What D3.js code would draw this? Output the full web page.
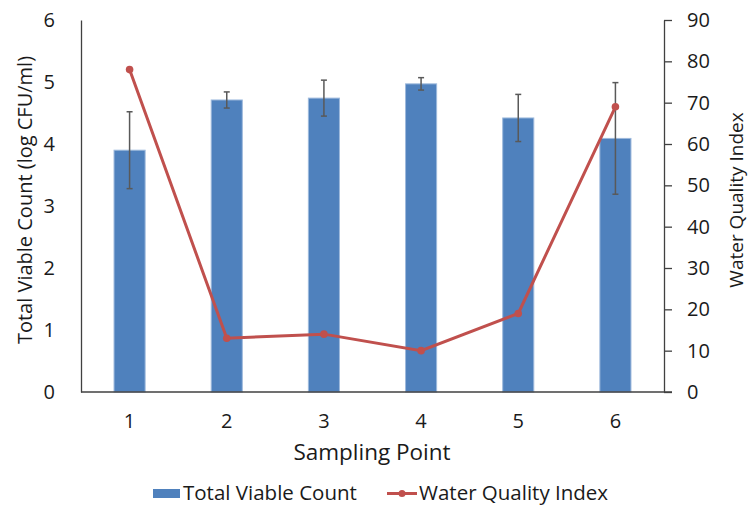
<!DOCTYPE html>
<html><head><meta charset="utf-8">
<script src="https://cdn.jsdelivr.net/npm/d3@7"></script>
<style>
body{margin:0;background:#fff;}
text{font-family:"Open Sans",sans-serif;fill:#1a1a1a;}
</style></head>
<body>
<svg id="chart" width="749" height="507"></svg>
<script>
const categories = ["1","2","3","4","5","6"];
const tvcValues = [3.90, 4.71, 4.74, 4.97, 4.42, 4.09];
const tvcErrors = [0.62, 0.13, 0.29, 0.10, 0.38, 0.90];
const wqiValues = [78, 13, 14, 10, 19, 69];
const leftTicks = [0,1,2,3,4,5,6];
const rightTicks = [0,10,20,30,40,50,60,70,80,90];

const svg = d3.select("#chart");
const m = {left:81, right:664, top:20, bottom:392};

const x = d3.scaleBand().domain(categories).range([m.left, m.right]).paddingInner(0.68).paddingOuter(0.34);
const yL = d3.scaleLinear().domain([0,6]).range([m.bottom, m.top]);
const yR = d3.scaleLinear().domain([0,90]).range([m.bottom, m.top]);

// bars
svg.append("g").selectAll("rect").data(categories).join("rect")
  .attr("x", d => x(d)).attr("width", x.bandwidth())
  .attr("y", (d,i) => yL(tvcValues[i])).attr("height", (d,i) => yL(0) - yL(tvcValues[i]))
  .attr("fill", "#4F81BD").attr("stroke", "#9DB9DC").attr("stroke-width", 1);

// error bars
const eb = svg.append("g").attr("stroke", "#595959").attr("stroke-width", 1.5);
categories.forEach((c,i) => {
  const cx = x(c) + x.bandwidth()/2;
  const t = yL(tvcValues[i] + tvcErrors[i]), b = yL(tvcValues[i] - tvcErrors[i]);
  eb.append("line").attr("x1", cx).attr("x2", cx).attr("y1", t).attr("y2", b);
  eb.append("line").attr("x1", cx-3).attr("x2", cx+3).attr("y1", t).attr("y2", t);
  eb.append("line").attr("x1", cx-3).attr("x2", cx+3).attr("y1", b).attr("y2", b);
});

// axes
const axisColor = "#404040";
const gl = svg.append("g").attr("transform", `translate(${m.left},0)`)
  .call(d3.axisLeft(yL).tickValues(leftTicks).tickSize(0).tickPadding(26).tickFormat(d3.format("d")));
gl.select(".domain").attr("stroke", axisColor).attr("stroke-width", 1.3);
gl.selectAll("text").attr("font-size", 20).attr("font-family", "Open Sans").attr("fill", "#1a1a1a");

const gr = svg.append("g").attr("transform", `translate(${m.right},0)`)
  .call(d3.axisRight(yR).tickValues(rightTicks).tickSize(8).tickSizeOuter(0).tickPadding(15).tickFormat(d3.format("d")));
gr.select(".domain").attr("stroke", axisColor).attr("stroke-width", 1.3);
gr.selectAll(".tick line").attr("stroke", axisColor).attr("stroke-width", 1.3);
gr.selectAll("text").attr("font-size", 20).attr("font-family", "Open Sans").attr("fill", "#1a1a1a");

const gx = svg.append("g").attr("transform", `translate(0,${m.bottom})`)
  .call(d3.axisBottom(x).tickSize(0).tickPadding(22));
gx.select(".domain").attr("d", `M${m.left},0H${m.right+8}`).attr("stroke", axisColor).attr("stroke-width", 1.3);
gx.selectAll("text").attr("font-size", 20).attr("font-family", "Open Sans").attr("fill", "#1a1a1a");

// line
const line = d3.line().x((d,i) => x(categories[i]) + x.bandwidth()/2).y(d => yR(d));
svg.append("path").datum(wqiValues).attr("d", line).attr("fill", "none")
  .attr("stroke", "#C0504D").attr("stroke-width", 3);
svg.append("g").selectAll("circle").data(wqiValues).join("circle")
  .attr("cx", (d,i) => x(categories[i]) + x.bandwidth()/2).attr("cy", d => yR(d))
  .attr("r", 3.8).attr("fill", "#C0504D");

// titles
svg.append("text").attr("transform", "translate(32,200) rotate(-90)").attr("text-anchor", "middle")
  .attr("font-size", 20).text("Total Viable Count (log CFU/ml)");
svg.append("text").attr("transform", "translate(743,200) rotate(-90)").attr("text-anchor", "middle")
  .attr("font-size", 19).text("Water Quality Index");
svg.append("text").attr("x", 372).attr("y", 460).attr("text-anchor", "middle")
  .attr("font-size", 22.5).text("Sampling Point");

// legend
const lg = svg.append("g");
lg.append("rect").attr("x", 153).attr("y", 489).attr("width", 27).attr("height", 9).attr("fill", "#4F81BD");
lg.append("text").attr("x", 183).attr("y", 500).attr("font-size", 20.5).text("Total Viable Count");
lg.append("line").attr("x1", 387).attr("x2", 417).attr("y1", 493.5).attr("y2", 493.5)
  .attr("stroke", "#C0504D").attr("stroke-width", 3);
lg.append("circle").attr("cx", 402).attr("cy", 493.5).attr("r", 3.5).attr("fill", "#C0504D");
lg.append("text").attr("x", 419).attr("y", 500).attr("font-size", 20.5).text("Water Quality Index");
</script>
</body></html>
